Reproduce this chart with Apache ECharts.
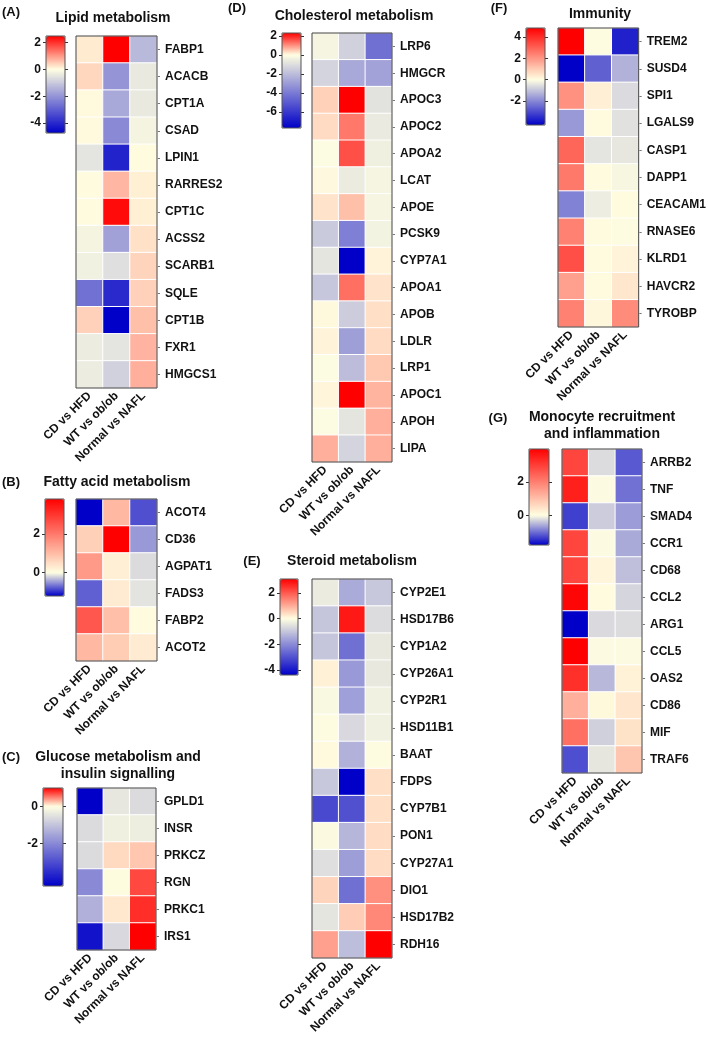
<!DOCTYPE html>
<html><head><meta charset="utf-8">
<script src="https://cdn.jsdelivr.net/npm/echarts@6/dist/echarts.min.js"></script>
<style>html,body{margin:0;padding:0;background:#fff}#c{width:709px;height:1037px}</style>
</head><body><div id="c"></div>
<script>
const comparisons = ['CD vs HFD', 'WT vs ob/ob', 'Normal vs NAFL'];

// (A) Lipid metabolism
const genesA = ['FABP1','ACACB','CPT1A','CSAD','LPIN1','RARRES2','CPT1C','ACSS2','SCARB1','SQLE','CPT1B','FXR1','HMGCS1'];
const valuesA = [
  [0.2, 2.5, -1.3],[0.4, -2.0, -0.4],[0.05, -1.6, -0.4],[0.05, -2.2, -0.2],[-0.5, -4.1, 0.02],
  [0.02, 0.7, 0.15],[0.0, 2.4, 0.15],[-0.2, -1.75, 0.3],[-0.25, -0.6, 0.42],[-2.65, -4.0, 0.45],
  [0.45, -4.75, 0.62],[-0.35, -0.5, 0.74],[-0.35, -0.85, 0.78]];
const rangeA = [-4.75, 2.5];
const ticksA = [2, 0, -2, -4];

// (B) Fatty acid metabolism
const genesB = ['ACOT4','CD36','AGPAT1','FADS3','FABP2','ACOT2'];
const valuesB = [[-1.2, 1.05, -0.83],[0.7, 3.8, -0.48],[1.52, 0.23, -0.17],[-0.75, 0.3, -0.13],[2.5, 0.95, 0.05],[1.05, 0.76, 0.3]];
const rangeB = [-1.2, 3.8];
const ticksB = [2, 0];

// (C) Glucose metabolism and insulin signalling
const genesC = ['GPLD1','INSR','PRKCZ','RGN','PRKC1','IRS1'];
const valuesC = [[-4.3, -0.4, -0.6],[-0.6, -0.25, -0.3],[-0.6, 0.15, 0.22],[-2.0, 0.0, 0.72],[-1.33, 0.09, 0.82],[-4.0, -0.65, 1.0]];
const rangeC = [-4.3, 1.0];
const ticksC = [0, -2];

// (D) Cholesterol metabolism
const genesD = ['LRP6','HMGCR','APOC3','APOC2','APOA2','LCAT','APOE','PCSK9','CYP7A1','APOA1','APOB','LDLR','LRP1','APOC1','APOH','LIPA'];
const valuesD = [
  [-0.3, -1.4, -4.3],[-1.3, -2.6, -2.8],[0.42, 2.3, -0.9],[0.32, 1.22, -0.65],[-0.1, 1.58, -0.45],
  [0.0, -0.6, -0.3],[0.25, 0.57, -0.3],[-1.6, -3.85, -0.35],[-0.8, -7.7, 0.1],[-1.7, 1.3, 0.25],
  [0.02, -1.55, 0.28],[0.1, -2.9, 0.32],[-0.1, -2.0, 0.5],[0.08, 2.3, 0.68],[-0.1, -0.8, 0.72],[0.72, -1.3, 0.72]];
const rangeD = [-7.7, 2.3];
const ticksD = [2, 0, -2, -4, -6];

// (E) Steroid metabolism
const genesE = ['CYP2E1','HSD17B6','CYP1A2','CYP26A1','CYP2R1','HSD11B1','BAAT','FDPS','CYP7B1','PON1','CYP27A1','DIO1','HSD17B2','RDH16'];
const valuesE = [
  [-0.35, -1.45, -0.95],[-1.0, 2.8, -0.6],[-1.0, -2.47, -0.4],[0.18, -1.77, -0.4],[-0.1, -1.65, -0.25],
  [0.0, -0.67, -0.25],[0.06, -1.35, 0.0],[-0.95, -4.4, 0.38],[-3.15, -3.0, 0.38],[-0.05, -1.25, 0.43],
  [-0.55, -1.7, 0.43],[0.52, -2.47, 1.35],[-0.45, 0.62, 1.45],[1.15, -1.15, 3.1]];
const rangeE = [-4.4, 3.1];
const ticksE = [2, 0, -2, -4];

// (F) Immunity
const genesF = ['TREM2','SUSD4','SPI1','LGALS9','CASP1','DAPP1','CEACAM1','RNASE6','KLRD1','HAVCR2','TYROBP'];
const valuesF = [
  [4.85, 0.0, -3.7],[-4.25, -2.65, -1.3],[2.1, 0.3, -0.6],[-1.7, 0.05, -0.5],[2.9, -0.45, -0.4],
  [2.55, 0.05, -0.15],[-2.1, -0.3, 0.05],[2.4, 0.05, 0.0],[3.35, 0.05, 0.2],[1.8, 0.05, 0.45],[2.4, 0.15, 2.2]];
const rangeF = [-4.25, 4.85];
const ticksF = [4, 2, 0, -2];

// (G) Monocyte recruitment and inflammation
const genesG = ['ARRB2','TNF','SMAD4','CCR1','CD68','CCL2','ARG1','CCL5','OAS2','CD86','MIF','TRAF6'];
const valuesG = [
  [2.9, -0.25, -1.17],[3.5, 0.0, -1.0],[-1.35, -0.36, -0.7],[2.9, 0.0, -0.6],[2.9, 0.15, -0.45],
  [3.9, 0.05, -0.3],[-1.8, -0.27, -0.25],[4.0, 0.0, 0.0],[3.25, -0.5, 0.2],[1.25, 0.1, 0.4],[2.25, -0.33, 0.45],[-1.25, -0.18, 0.9]];
const rangeG = [-1.8, 4.0];
const ticksG = [2, 0];

const FONT = '"Liberation Sans", Arial, Helvetica, sans-serif';
const TXT = '#111';

const panels = [
  {letter:'(A)', title:['Lipid metabolism'], genes:genesA, values:valuesA, range:rangeA, ticks:ticksA,
   hm:{left:76, top:36, width:81, height:352}, cb:{left:46, top:36, width:19, height:97}, lp:[11,12], tp:[113,18]},
  {letter:'(B)', title:['Fatty acid metabolism'], genes:genesB, values:valuesB, range:rangeB, ticks:ticksB,
   hm:{left:76, top:499, width:81, height:162}, cb:{left:45, top:499, width:19, height:97}, lp:[11,482], tp:[117,482]},
  {letter:'(C)', title:['Glucose metabolism and','insulin signalling'], genes:genesC, values:valuesC, range:rangeC, ticks:ticksC,
   hm:{left:77, top:788, width:79, height:162}, cb:{left:43, top:788, width:20, height:98}, lp:[11,757], tp:[118,757]},
  {letter:'(D)', title:['Cholesterol metabolism'], genes:genesD, values:valuesD, range:rangeD, ticks:ticksD,
   hm:{left:312, top:33, width:80, height:429}, cb:{left:282, top:33, width:19, height:95}, lp:[237,8], tp:[354,16]},
  {letter:'(E)', title:['Steroid metabolism'], genes:genesE, values:valuesE, range:rangeE, ticks:ticksE,
   hm:{left:312, top:579, width:80, height:379}, cb:{left:280, top:579, width:18, height:96}, lp:[252,561], tp:[352,561]},
  {letter:'(F)', title:['Immunity'], genes:genesF, values:valuesF, range:rangeF, ticks:ticksF,
   hm:{left:558, top:28, width:82, height:299}, cb:{left:526, top:28, width:19, height:97}, lp:[499,8], tp:[600,14]},
  {letter:'(G)', title:['Monocyte recruitment','and inflammation'], genes:genesG, values:valuesG, range:rangeG, ticks:ticksG,
   hm:{left:562, top:449, width:80, height:324}, cb:{left:529, top:449, width:20, height:96}, lp:[498,418], tp:[602,417]}
];

const CREAM = [255, 255, 226], BLUE = [0, 0, 200], RED = [255, 0, 0];
function lerp(a, b, t) { return a.map((v, i) => Math.round(v + (b[i] - v) * t)); }
function divColor(v, min, max) {
  const c = v < 0 ? lerp(CREAM, BLUE, Math.min(1, v / min)) : lerp(CREAM, RED, Math.min(1, v / max));
  return 'rgb(' + c.join(',') + ')';
}
function stops(min, max) {
  const n = 60, out = [];
  for (let i = 0; i < n; i++) out.push(divColor(min + (max - min) * i / (n - 1), min, max));
  return out;
}

const grid = [], xAxis = [], yAxis = [], series = [], visualMap = [], graphic = [];
panels.forEach((p, k) => {
  const gi = grid.length;
  grid.push({left:p.hm.left, top:p.hm.top, width:p.hm.width, height:p.hm.height, show:true,
             borderColor:'#444', borderWidth:1, backgroundColor:'transparent', z:10, containLabel:false});
  xAxis.push({type:'category', gridIndex:gi, data:comparisons, axisLine:{show:false}, axisTick:{show:false},
              axisLabel:{rotate:45, interval:0, margin:6, fontSize:12, fontWeight:'bold', color:TXT, fontFamily:FONT}});
  yAxis.push({type:'category', gridIndex:gi, data:p.genes, inverse:true, position:'right',
              axisLine:{show:false}, axisTick:{show:true, length:3, alignWithLabel:true, lineStyle:{color:'#777'}},
              axisLabel:{margin:8, fontSize:12, fontWeight:'bold', color:TXT, fontFamily:FONT}});
  const hmx = xAxis.length - 1, hmy = yAxis.length - 1;
  const data = [];
  p.values.forEach((row, r) => row.forEach((v, c) => data.push([c, r, v])));
  series.push({type:'heatmap', xAxisIndex:hmx, yAxisIndex:hmy, data:data, z:2,
               itemStyle:{borderColor:'#ffffff', borderWidth:1}, emphasis:{disabled:true}});
  visualMap.push({type:'continuous', seriesIndex:k, min:p.range[0], max:p.range[1], orient:'vertical',
                  left:p.cb.left, top:p.cb.top, itemWidth:p.cb.width, itemHeight:p.cb.height,
                  calculable:false, padding:0, hoverLink:false, text:null, showLabel:false,
                  inRange:{color:stops(p.range[0], p.range[1])}});
  // colour-bar axis
  const cg = grid.length;
  grid.push({left:p.cb.left, top:p.cb.top, width:p.cb.width, height:p.cb.height, show:true,
             borderColor:'#555', borderWidth:1, backgroundColor:'transparent', z:10});
  xAxis.push({type:'value', gridIndex:cg, show:false, min:0, max:1});
  const baseY = {type:'value', gridIndex:cg, min:p.range[0], max:p.range[1], axisLine:{show:false}, splitLine:{show:false}};
  yAxis.push(Object.assign({}, baseY, {position:'left',
     axisTick:{show:true, length:3, customValues:p.ticks, lineStyle:{color:'#333'}},
     axisLabel:{customValues:p.ticks, margin:5, fontSize:12, fontWeight:'bold', color:TXT, fontFamily:FONT}}));
  yAxis.push(Object.assign({}, baseY, {position:'right',
     axisTick:{show:true, length:3, customValues:p.ticks, lineStyle:{color:'#333'}},
     axisLabel:{show:false}}));
  // letter and title
  graphic.push({type:'text', x:p.lp[0], y:p.lp[1], style:{text:p.letter, align:'center', verticalAlign:'middle',
     textAlign:'center', textVerticalAlign:'middle', fontSize:13, fontWeight:'bold', fontFamily:FONT, fill:TXT}});
  p.title.forEach((t, i) => graphic.push({type:'text', x:p.tp[0], y:p.tp[1] + i * 17,
     style:{text:t, align:'center', verticalAlign:'middle', textAlign:'center', textVerticalAlign:'middle',
            fontSize:14, fontWeight:'bold', fontFamily:FONT, fill:TXT}}));
});

const chart = echarts.init(document.getElementById('c'), null, {renderer:'canvas'});
chart.setOption({animation:false, backgroundColor:'#fff', grid, xAxis, yAxis, series, visualMap, graphic});
</script></body></html>
